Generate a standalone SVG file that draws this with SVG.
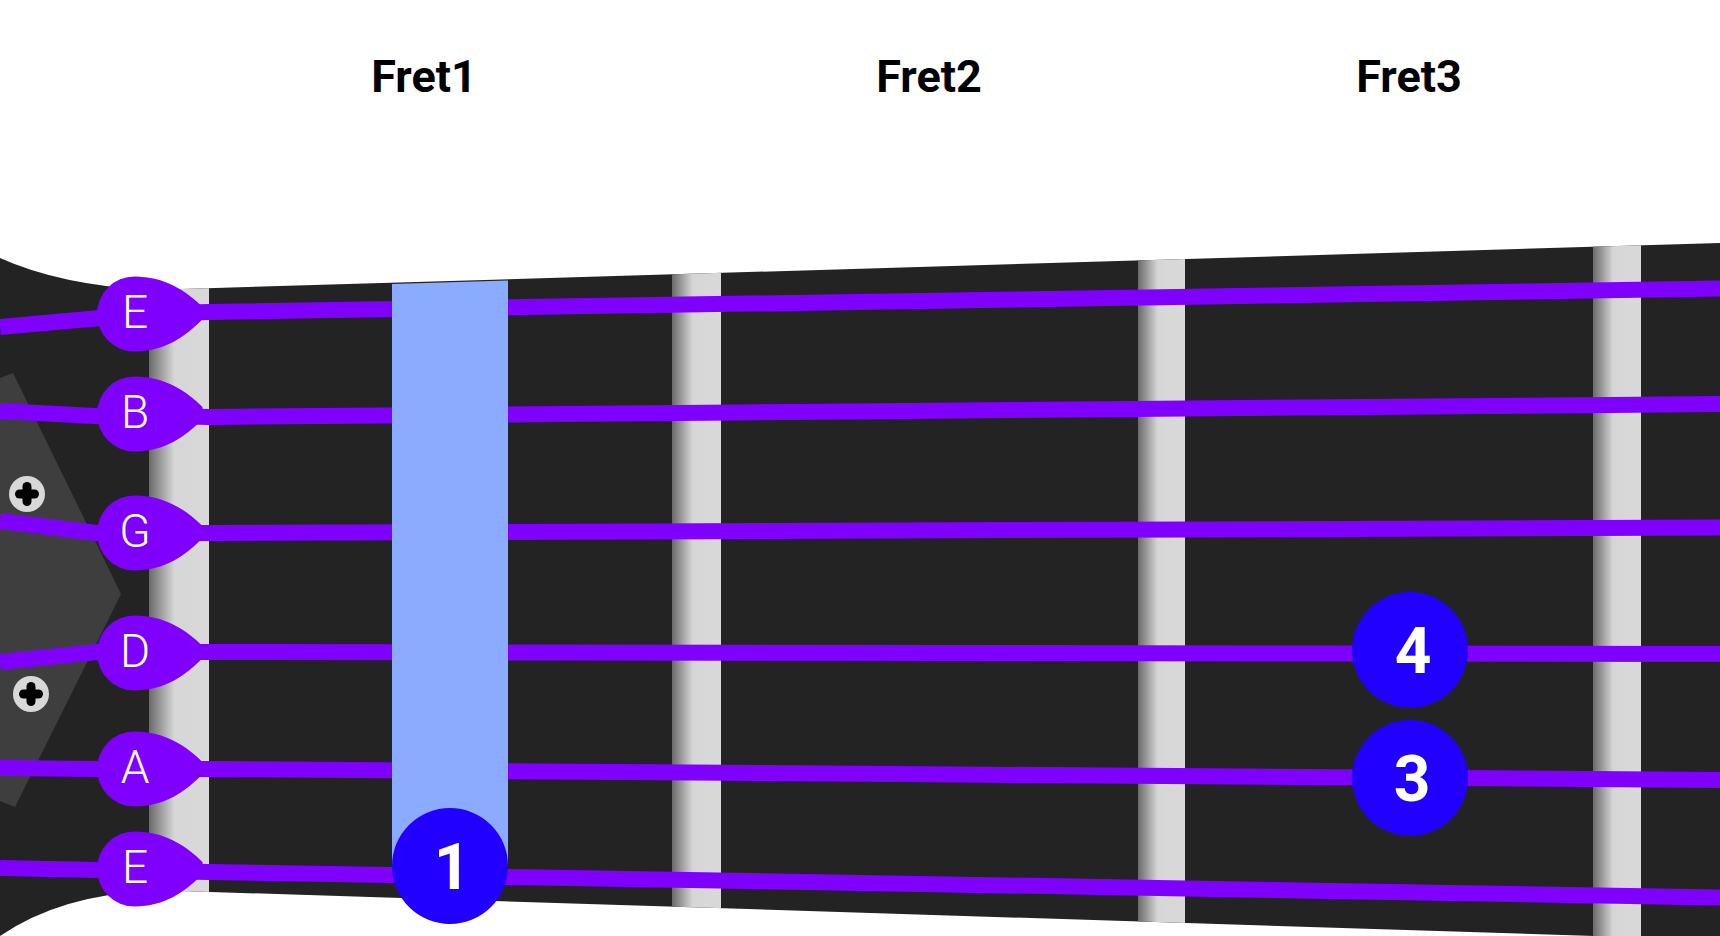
<svg xmlns="http://www.w3.org/2000/svg" width="1720" height="936" viewBox="0 0 1720 936">
<style>
.dark{fill:#232323}
.plate{fill:#3e3e3e}
.str{fill:none;stroke:#8000ff;stroke-width:16;stroke-linejoin:round}
.pick{fill:#8000ff}
.plbl{font-family:Roboto,"Liberation Sans",sans-serif;font-weight:300;font-size:46px;fill:#fff;text-anchor:middle}
.fret{fill:url(#fretGrad)}
.dot{fill:#2200ff}
.num{font-family:Roboto,"Liberation Sans",sans-serif;font-weight:700;font-size:64px;fill:#fff;text-anchor:middle}
.title{font-family:Roboto,"Liberation Sans",sans-serif;font-weight:700;font-size:45px;fill:#000;text-anchor:middle}
.screw{fill:#d8d8d8}
</style>
<defs>
<linearGradient id="fretGrad" x1="0" y1="0" x2="1" y2="0">
<stop offset="0" stop-color="#6a6a6a"/>
<stop offset="0.42" stop-color="#d6d6d6"/>
<stop offset="1" stop-color="#d9d9d9"/>
</linearGradient>
<clipPath id="boardClip"><polygon points="149,290 1720,243 1720,940 149,890"/></clipPath>
<path id="pickShape" d="M-37.5,0 A37.5,37.5 0 0 1 0,-37.5 C30,-37.5 52,-23 68,-7 L68,5 C52,22 30,37.5 0,37.5 A37.5,37.5 0 0 1 -37.5,0 Z"/>
<g id="screwShape">
<circle r="18" class="screw"/>
<rect x="-12" y="-4.5" width="24" height="9" rx="4.5" fill="#000"/>
<rect x="-4.5" y="-12" width="9" height="24" rx="4.5" fill="#000"/>
</g>
</defs>
<rect width="1720" height="936" fill="#fff"/>
<g id="headstock">
<path class="dark" d="M0,258 Q60,285 150,290 L150,891 Q60,895 0,936 Z"/>
<polygon class="plate" points="0,378 13,373 121,594 15,807 0,801"/>
<use href="#screwShape" x="27" y="494"/>
<use href="#screwShape" x="31" y="694"/>
</g>
<g id="fretboard">
<polygon class="dark" points="149,290 1720,243 1720,940 149,890"/>
</g>
<g id="frets" clip-path="url(#boardClip)">
<rect id="nut" class="fret" x="149" y="200" width="60" height="740"/>
<rect id="fret1" class="fret" x="672" y="200" width="49" height="740"/>
<rect id="fret2" class="fret" x="1138" y="200" width="47" height="740"/>
<rect id="fret3" class="fret" x="1593" y="200" width="48" height="740"/>
</g>
<g id="connectors">
<path class="str" d="M0,327 L100,318 L135,314 L209,312 L1720,288.5"/>
<path class="str" d="M0,411 L95,416 L135,415 L209,417 L1720,404"/>
<path class="str" d="M0,521 L97,533 L209,533 L1720,527.6"/>
<path class="str" d="M0,662 L97,652 L209,652 L1720,654"/>
<path class="str" d="M0,768 L97,769 L209,769 L1720,780"/>
<path class="str" d="M0,868 L97,870 L209,872 L1720,897.5"/>
</g>
<g id="highlight">
<polygon fill="#8aabff" points="392,284 508,280.5 508,866 392,866"/>
</g>
<g id="pick-E-high"><use href="#pickShape" class="pick" x="134.5" y="314"/><text class="plbl" x="135" y="328">E</text></g>
<g id="pick-B"><use href="#pickShape" class="pick" x="134.5" y="414"/><text class="plbl" x="135" y="428">B</text></g>
<g id="pick-G"><use href="#pickShape" class="pick" x="134.5" y="533"/><text class="plbl" x="135" y="547">G</text></g>
<g id="pick-D"><use href="#pickShape" class="pick" x="134.5" y="653"/><text class="plbl" x="135" y="667">D</text></g>
<g id="pick-A"><use href="#pickShape" class="pick" x="134.5" y="769"/><text class="plbl" x="135" y="783">A</text></g>
<g id="pick-E-low"><use href="#pickShape" class="pick" x="134.5" y="869"/><text class="plbl" x="135" y="883">E</text></g>
<g id="finger-1"><circle class="dot" cx="450" cy="866" r="58"/><text class="num" x="452" y="889">1</text></g>
<g id="finger-4"><circle class="dot" cx="1410" cy="650" r="58"/><text class="num" x="1413" y="673">4</text></g>
<g id="finger-3"><circle class="dot" cx="1410" cy="778" r="58"/><text class="num" x="1412" y="801">3</text></g>
<g id="labels">
<text class="title" x="424" y="92">Fret1</text>
<text class="title" x="929" y="92">Fret2</text>
<text class="title" x="1409" y="92">Fret3</text>
</g>
</svg>
